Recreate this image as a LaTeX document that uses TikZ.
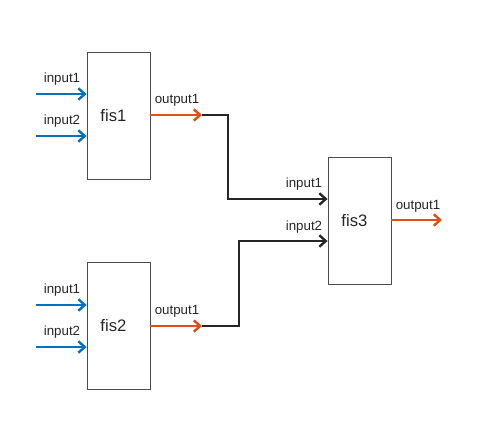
\documentclass[tikz,border=0pt]{standalone}
\usepackage{fontspec}
\setmainfont{Liberation Sans}
\usetikzlibrary{positioning,calc,arrows.meta}
\definecolor{inblue}{RGB}{0,114,189}
\definecolor{outorange}{RGB}{217,83,25}
\definecolor{linkblack}{RGB}{38,38,38}
\tikzset{font=\fontsize{10}{12}\selectfont}
\tikzset{
	fisbox/.style={draw=black!70, line width=0.6pt, minimum width=47.25pt, minimum height=95.25pt, inner sep=0pt,
		label={[xshift=-3.8pt, font=\fontsize{12.5}{15}\selectfont]center:#1}},
	tip/.style={-{Straight Barb[length=4.8pt, width=8.5pt, line width=1.8pt]}},
	inarrow/.style={tip, draw=inblue, line width=2.2pt},
	outarrow/.style={tip, draw=outorange, line width=2.2pt},
	link/.style={tip, draw=linkblack, line width=2.2pt},
}

\begin{document}
\begin{tikzpicture}[x=0.75pt, y=-0.75pt]
	\useasboundingbox (0,0) rectangle (480,440);
	\begin{scope}
		\tikzstyle{every node}=[align=center, inner sep=1pt, text=black!85]
		% boxes
		\node[fisbox={fis1}] (fis1) at (118.5, 115.5) {};
		\node[fisbox={fis2}] (fis2) at (118.5, 326) {};
		\node[fisbox={fis3}] (fis3) at (359.5, 220.5) {};

		% free ends
		\coordinate (in11) at (36, 94);
		\coordinate (in12) at (36, 136);
		\coordinate (in21) at (36, 305);
		\coordinate (in22) at (36, 347);
		\coordinate (out1) at (202, 115);
		\coordinate (out2) at (202, 326);
		\coordinate (out3) at (442, 220);

		% labels
		\node (l11) at (62, 79.5) {input1};
		\node (l12) at (62, 121.5) {input2};
		\node (l21) at (62, 290.5) {input1};
		\node (l22) at (62, 332.5) {input2};
		\node (lo1) at (177, 100.5) {output1};
		\node (lo2) at (177, 311.5) {output1};
		\node (l31) at (304, 184.5) {input1};
		\node (l32) at (304, 227.5) {input2};
		\node (lo3) at (418, 206.5) {output1};

		\draw[inarrow]  (in11) -- (in11 -| fis1.west);
		\draw[inarrow]  (in12) -- (in12 -| fis1.west);
		\draw[inarrow]  (in21) -- (in21 -| fis2.west);
		\draw[inarrow]  (in22) -- (in22 -| fis2.west);
		\draw[outarrow] (out1 -| fis1.east) -- (out1);
		\draw[outarrow] (out2 -| fis2.east) -- (out2);
		\draw[outarrow] (out3 -| fis3.east) -- (out3);
		\draw[link]     (out1) -- (228, 115) -- (228, 199) -- (fis3.west |- 0, 199);
		\draw[link]     (out2) -- (239, 326) -- (239, 241) -- (fis3.west |- 0, 241);
	\end{scope}
\end{tikzpicture}
\end{document}
